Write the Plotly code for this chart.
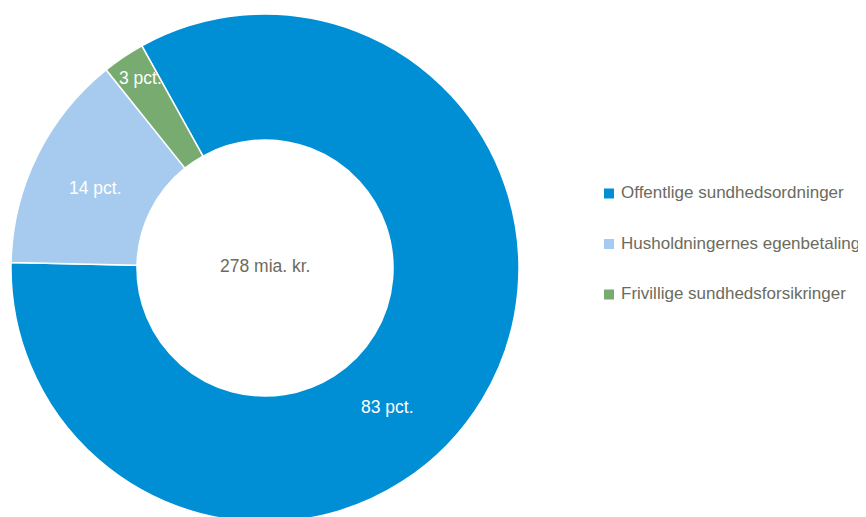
import plotly.graph_objects as go

# Data
labels = ["Offentlige sundhedsordninger", "Husholdningernes egenbetaling", "Frivillige sundhedsforsikringer"]
values = [83.4, 13.9, 2.7]
colors = ["#008FD5", "#A6CBEE", "#77AB6F"]
center_text = "278 mia. kr."

W, H = 866, 517
OFF = 8  # default page body margin offset
FONT = "Liberation Sans, Arial, sans-serif"
GRAY = "#6b6b60"
FS = 17.5
FS_LEG = 17

# donut geometry (page pixels)
cx, cy, r = 265 - OFF, 268 - OFF, 254
fig = go.Figure(go.Pie(
    labels=labels,
    values=values,
    marker=dict(colors=colors, line=dict(color="white", width=1.5)),
    hole=0.504,
    sort=False,
    direction="clockwise",
    rotation=331,
    textinfo="none",
    hoverinfo="label+percent",
    showlegend=False,
    domain=dict(x=[(cx - r) / W, (cx + r) / W],
                y=[(H - (cy + r)) / H, (H - (cy - r)) / H]),
))

def px(x):
    return (x - OFF) / W

def py(y):
    return 1 - (y - OFF) / H

annotations = []
shapes = []
# slice labels
label_pos = [(387, 407), (95, 188), (140, 78)]
for v, (x, y) in zip(values, label_pos):
    annotations.append(dict(x=px(x), y=py(y), xref="paper", yref="paper",
                            text=f"{v:.0f} pct.", showarrow=False,
                            xanchor="center", yanchor="middle",
                            font=dict(family=FONT, size=FS, color="white")))
# center label
annotations.append(dict(x=px(265), y=py(266), xref="paper", yref="paper",
                        text=center_text, showarrow=False,
                        xanchor="center", yanchor="middle",
                        font=dict(family=FONT, size=FS, color=GRAY)))
# legend
leg_y = [193.5, 244, 294.5]
for lab, col, y in zip(labels, colors, leg_y):
    shapes.append(dict(type="rect", xref="paper", yref="paper",
                       x0=px(604), x1=px(614), y0=py(y - 5), y1=py(y + 5),
                       fillcolor=col, line=dict(width=0)))
    annotations.append(dict(x=px(619), y=py(y - 1), xref="paper", yref="paper",
                            text=lab, showarrow=False,
                            xanchor="left", yanchor="middle",
                            font=dict(family=FONT, size=FS_LEG, color=GRAY)))

fig.update_layout(
    width=W, height=H,
    margin=dict(l=0, r=0, t=0, b=0),
    paper_bgcolor="white",
    plot_bgcolor="white",
    annotations=annotations,
    shapes=shapes,
)

fig.write_html("out.html")
